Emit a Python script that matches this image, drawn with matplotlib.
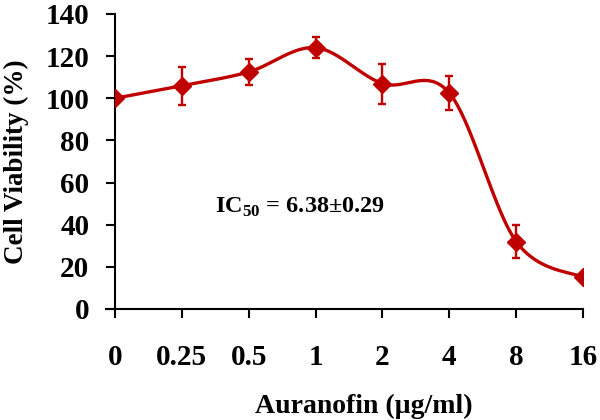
import numpy as np
import matplotlib
matplotlib.use("Agg")
import matplotlib.pyplot as plt

plt.rcParams['font.family'] = ['Liberation Serif', 'DejaVu Serif']
plt.rcParams['font.weight'] = 'bold'
plt.rcParams['mathtext.fontset'] = 'custom'
plt.rcParams['mathtext.rm'] = 'Liberation Serif:bold'
plt.rcParams['mathtext.bf'] = 'Liberation Serif:bold'

doses = ['0', '0.25', '0.5', '1', '2', '4', '8', '16']
viability = [100, 106, 112.5, 124, 107, 102.5, 32, 15]
err = [0, 9, 6, 5, 9.5, 8, 7.7, 0]

RED = '#C00000'


def smooth(y, n=40):
    # catmull-rom style smoothing like a spreadsheet "smoothed line"
    x = np.arange(len(y), dtype=float)
    y = np.asarray(y, float)
    px = np.concatenate([[x[0]], x, [x[-1]]])
    py = np.concatenate([[y[0]], y, [y[-1]]])
    xs, ys = [], []
    for i in range(1, len(px) - 2):
        p0, p1, p2, p3 = [np.array([px[j], py[j]]) for j in range(i - 1, i + 3)]
        c1 = p1 + (p2 - p0) / 6
        c2 = p2 - (p3 - p1) / 6
        t = np.linspace(0, 1, n)[:, None]
        b = (1 - t) ** 3 * p1 + 3 * (1 - t) ** 2 * t * c1 + 3 * (1 - t) * t ** 2 * c2 + t ** 3 * p2
        xs.append(b[:, 0])
        ys.append(b[:, 1])
    return np.concatenate(xs), np.concatenate(ys)


fig = plt.figure(figsize=(6, 4.2), dpi=100)
ax = fig.add_axes([0.1917, 0.2643, 0.78, 0.7024])

pos = np.arange(len(doses))
sx, sy = smooth(viability)
ax.plot(sx, sy, color=RED, lw=2.4, zorder=2)
ax.errorbar(pos, viability, yerr=err, fmt='none', ecolor=RED, elinewidth=1.7,
            capsize=3.2, capthick=1.7, zorder=3)
ax.plot(pos, viability, 'D', color=RED, markersize=9, zorder=4)

ax.set_xlim(0, len(doses) - 1)
ax.set_ylim(0, 140)
ax.set_xticks(pos)
ax.set_xticklabels(doses)
ax.set_yticks(np.arange(0, 141, 20))

for s in ['top', 'right']:
    ax.spines[s].set_visible(False)
for s in ['left', 'bottom']:
    ax.spines[s].set_linewidth(1.5)
ax.spines['left'].set_zorder(1)
ax.plot([-0.135, 0], [0, 0], color='black', lw=1.5, clip_on=False, zorder=1)

ax.tick_params(axis='both', labelsize=21, width=1.5, length=6.5, direction='out')
ax.tick_params(axis='x', pad=19)
ax.tick_params(axis='y', pad=12)

ax.set_ylabel('Cell Viability (%)', fontsize=19.5, fontweight='bold', labelpad=12)
ax.set_xlabel('Auranofin (µg/ml)', fontsize=20, fontweight='bold')
ax.xaxis.set_label_coords(0.532, -0.288)

ax.text(2.76, 48, r'IC$_{\mathbf{50}}$ = 6.38±0.29', fontsize=17.5, fontweight='bold',
        ha='center', va='center')

fig.savefig('out.png', dpi=100)
